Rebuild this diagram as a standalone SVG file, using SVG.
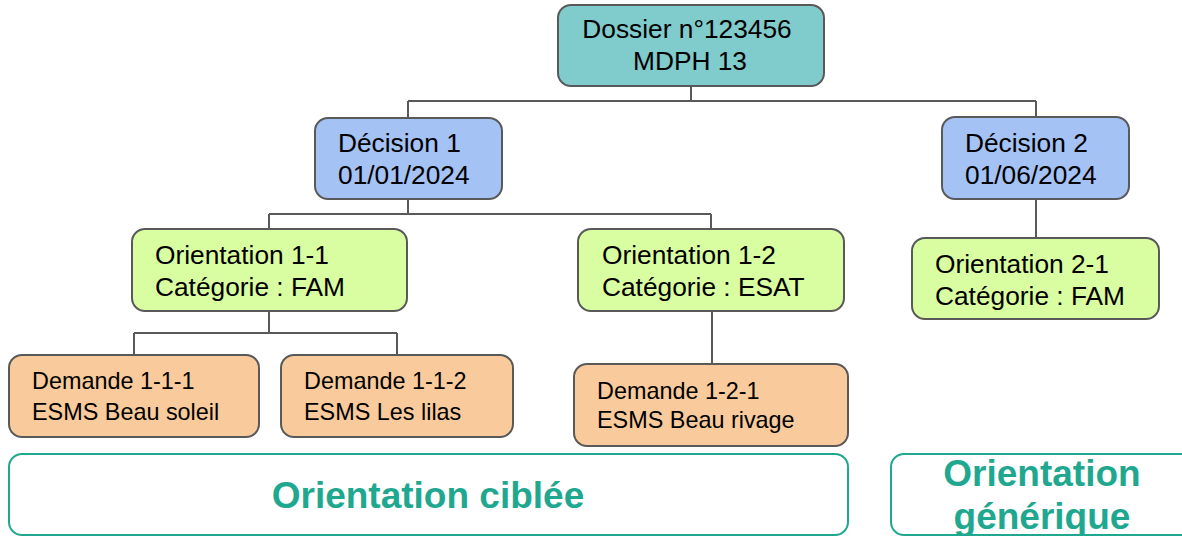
<svg xmlns="http://www.w3.org/2000/svg" width="1182" height="536" viewBox="0 0 1182 536">
<style>
.box{stroke:#595959;stroke-width:2}
.t{font-family:"Liberation Sans",Arial,sans-serif;font-size:26.3px;fill:#000}
.ts{font-family:"Liberation Sans",Arial,sans-serif;font-size:23.4px;fill:#000}
.conn{fill:none;stroke:#595959;stroke-width:2}
.zone{fill:#fff;stroke:#1fa88f;stroke-width:2}
.zt{font-family:"Liberation Sans",Arial,sans-serif;font-size:37px;font-weight:bold;fill:#1fa88f;text-anchor:middle}
</style>
<rect width="1182" height="536" fill="#fff"/>
<g id="connectors">
<path class="conn" d="M691 86V101M408 101H1036M408 101V118M1036 101V117"/>
<path class="conn" d="M408 199V214M269 214H711M269 214V229M711 214V229"/>
<path class="conn" d="M1036 199V238"/>
<path class="conn" d="M269 311V333M134 333H397M134 333V355M397 333V355"/>
<path class="conn" d="M712 311V364"/>
</g>
<g id="dossier"><rect class="box" x="558" y="5" width="266" height="81" rx="13" fill="#80cbcc"/>
<text class="t" text-anchor="middle"><tspan x="687" y="38">Dossier n°123456</tspan><tspan x="690" y="70">MDPH 13</tspan></text></g>
<g id="decision1"><rect class="box" x="315" y="118" width="187" height="81" rx="13" fill="#a4c2f4"/>
<text class="t"><tspan x="338" y="152">Décision 1</tspan><tspan x="338" y="184">01/01/2024</tspan></text></g>
<g id="decision2"><rect class="box" x="942" y="117" width="187" height="82" rx="13" fill="#a4c2f4"/>
<text class="t"><tspan x="965" y="152">Décision 2</tspan><tspan x="965" y="184">01/06/2024</tspan></text></g>
<g id="orientation11"><rect class="box" x="132" y="229" width="275" height="82" rx="13" fill="#d9fda1"/>
<text class="t"><tspan x="155" y="264">Orientation 1-1</tspan><tspan x="155" y="296">Catégorie : FAM</tspan></text></g>
<g id="orientation12"><rect class="box" x="578" y="229" width="266" height="82" rx="13" fill="#d9fda1"/>
<text class="t"><tspan x="602" y="264">Orientation 1-2</tspan><tspan x="602" y="296">Catégorie : ESAT</tspan></text></g>
<g id="orientation21"><rect class="box" x="912" y="238" width="247" height="81" rx="13" fill="#d9fda1"/>
<text class="t"><tspan x="935" y="273">Orientation 2-1</tspan><tspan x="935" y="305">Catégorie : FAM</tspan></text></g>
<g id="demande111"><rect class="box" x="9" y="355" width="250" height="82" rx="13" fill="#f9cb9c"/>
<text class="ts"><tspan x="32" y="389">Demande 1-1-1</tspan><tspan x="32" y="420">ESMS Beau soleil</tspan></text></g>
<g id="demande112"><rect class="box" x="281" y="355" width="232" height="82" rx="13" fill="#f9cb9c"/>
<text class="ts"><tspan x="304" y="389">Demande 1-1-2</tspan><tspan x="304" y="420">ESMS Les lilas</tspan></text></g>
<g id="demande121"><rect class="box" x="574" y="364" width="274" height="82" rx="13" fill="#f9cb9c"/>
<text class="ts"><tspan x="597" y="399">Demande 1-2-1</tspan><tspan x="597" y="428">ESMS Beau rivage</tspan></text></g>
<g id="zone-ciblee"><rect class="zone" x="9" y="454" width="839" height="81" rx="13"/>
<text class="zt" x="428" y="508">Orientation ciblée</text></g>
<g id="zone-generique"><rect class="zone" x="891" y="454" width="320" height="81" rx="13"/>
<text class="zt"><tspan x="1042" y="486">Orientation</tspan><tspan x="1042" y="529">générique</tspan></text></g>
</svg>
